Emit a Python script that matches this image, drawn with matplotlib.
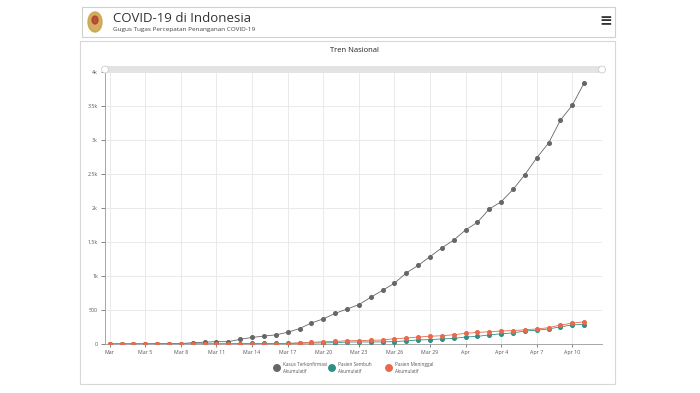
import matplotlib.pyplot as plt
import matplotlib.patches as mpatches
import numpy as np

# daily cumulative counts, Mar 2 .. Apr 11
confirmed = [2, 2, 2, 2, 4, 4, 6, 19, 27, 34, 34, 69, 96, 117, 134, 172, 227, 309, 369, 450,
             514, 579, 686, 790, 893, 1046, 1155, 1285, 1414, 1528, 1677, 1790, 1986, 2092,
             2273, 2491, 2738, 2956, 3293, 3512, 3842]
recovered = [0, 0, 0, 0, 0, 0, 0, 0, 2, 2, 3, 5, 8, 8, 8, 9, 11, 15, 16, 20,
             29, 30, 30, 31, 35, 46, 59, 64, 75, 81, 103, 112, 134, 150,
             164, 192, 202, 222, 252, 282, 286]
deaths = [0, 0, 0, 0, 0, 0, 0, 0, 0, 1, 1, 4, 5, 5, 5, 7, 19, 25, 32, 38,
          48, 49, 55, 58, 78, 87, 102, 114, 122, 136, 157, 170, 181, 191,
          198, 209, 221, 240, 280, 306, 327]
xtick_labels = ["Mar", "Mar 5", "Mar 8", "Mar 11", "Mar 14", "Mar 17", "Mar 20", "Mar 23",
                "Mar 26", "Mar 29", "Apr", "Apr 4", "Apr 7", "Apr 10"]
ytick_labels = ["0", "500", "1k", "1.5k", "2k", "2.5k", "3k", "3.5k", "4k"]
series_names = ["Kasus Terkonfirmasi\nAkumulatif", "Pasien Sembuh\nAkumulatif",
                "Pasien Meninggal\nAkumulatif"]
colors = ["#666666", "#2f8f86", "#e8694c"]

plt.rcParams['font.family'] = ['Open Sans', 'DejaVu Sans']

W, H = 700, 393
fig = plt.figure(figsize=(7, 3.93), dpi=100)

def fx(px):
    return px / W

def fy(py):
    return 1 - py / H

# header box and chart panel frames
fig.patches.append(mpatches.Rectangle((fx(82), fy(37)), fx(615 - 82), (37 - 7) / H,
                                      transform=fig.transFigure, fill=False,
                                      edgecolor="#d0d0d0", lw=0.8))
fig.patches.append(mpatches.Rectangle((fx(80), fy(384)), fx(615 - 80), (384 - 41) / H,
                                      transform=fig.transFigure, fill=False,
                                      edgecolor="#d8d8d8", lw=0.8))
# emblem placeholder
fig.patches.append(mpatches.Ellipse((fx(95), fy(22)), fx(14), 20 / H,
                                    transform=fig.transFigure, color="#c9a046", alpha=0.85))
fig.patches.append(mpatches.Ellipse((fx(95), fy(20)), fx(6), 8 / H,
                                    transform=fig.transFigure, color="#b23a2a", alpha=0.8))
fig.text(fx(113), fy(18), "COVID-19 di Indonesia", fontsize=9.5, color="#333333",
         va="center", ha="left")
fig.text(fx(113), fy(29.5), "Gugus Tugas Percepatan Penanganan COVID-19", fontsize=4.6,
         color="#444444", va="center", ha="left")
fig.text(fx(606), fy(21), "\u2261", fontsize=11, color="#333333", va="center", ha="center",
         fontweight="bold")
fig.text(fx(354), fy(50), "Tren Nasional", fontsize=5.5, color="#222222", va="center",
         ha="center")

# plot area
x0, x1, ytop, ybot = 105, 602, 72, 344
ax = fig.add_axes([fx(x0), fy(ybot), fx(x1 - x0), (ybot - ytop) / H])
days = np.arange(len(confirmed))
for vals, c in zip([confirmed, recovered, deaths], colors):
    ax.plot(days, vals, color=c, lw=0.6, marker="o", ms=2.6, mec=c, mfc=c, zorder=3)

ax.set_xlim(-0.4, 41.5)
ax.set_ylim(0, 4000)
ax.set_xticks(np.arange(0, 40, 3))
ax.set_xticklabels(xtick_labels)
ax.set_yticks(np.arange(0, 4001, 500))
ax.set_yticklabels(ytick_labels)
ax.tick_params(axis="both", labelsize=3.8, colors="#555555", length=2, width=0.5, pad=2)
ax.tick_params(axis="y", length=3)
ax.grid(True, color="#e6e6e6", lw=0.6)
ax.set_axisbelow(True)
for s in ["top", "right"]:
    ax.spines[s].set_visible(False)
ax.spines["left"].set_color("#999999")
ax.spines["bottom"].set_color("#999999")
ax.spines["left"].set_linewidth(0.6)
ax.spines["bottom"].set_linewidth(0.6)

# scrollbar
fig.patches.append(mpatches.Rectangle((fx(x0), fy(72.5)), fx(x1 - x0), 6 / H,
                                      transform=fig.transFigure, color="#e3e3e3", lw=0))
for hx in [x0, x1]:
    fig.patches.append(mpatches.Ellipse((fx(hx), fy(69.5)), fx(7), 7 / H,
                                        transform=fig.transFigure, facecolor="white",
                                        edgecolor="#cccccc", lw=0.6))

# legend
for lx, name, c in zip([277, 332, 389], series_names, colors):
    fig.patches.append(mpatches.Ellipse((fx(lx), fy(368)), fx(6.5), 6.5 / H,
                                        transform=fig.transFigure, color=c))
    fig.text(fx(lx + 6), fy(368), name, fontsize=3.3, color="#555555", va="center",
             ha="left", linespacing=1.3)

fig.savefig("out.png", dpi=100, facecolor="white")
